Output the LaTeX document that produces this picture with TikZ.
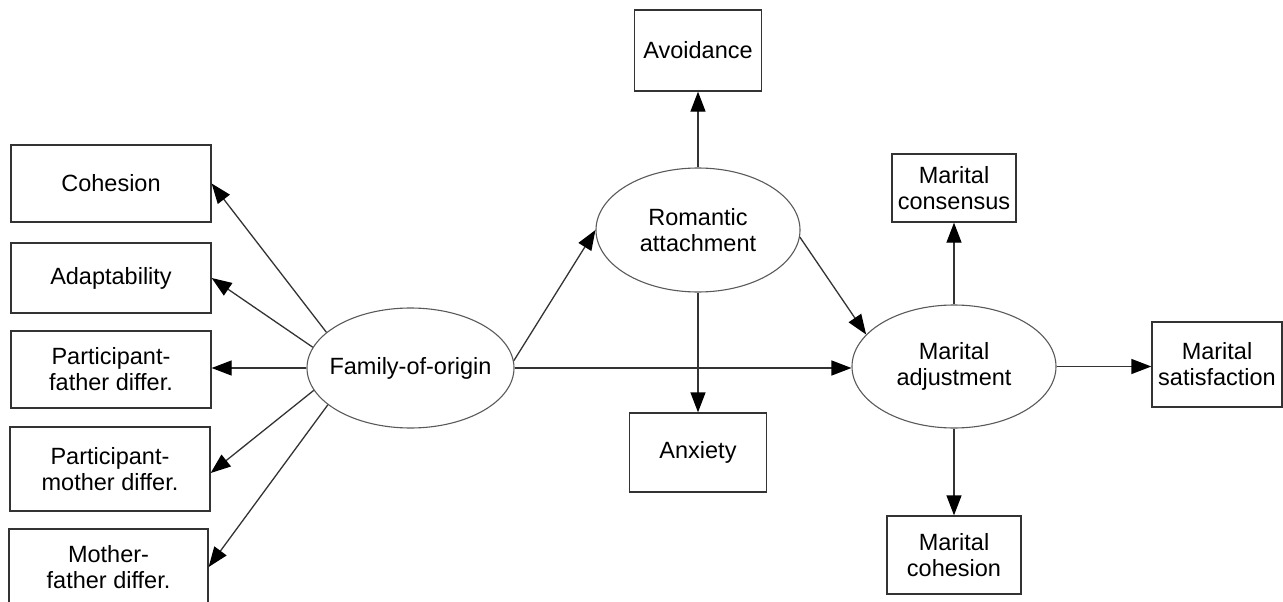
\documentclass[tikz,border=0pt]{standalone}
\usepackage{fontspec}
\setmainfont{Liberation Sans}
\usetikzlibrary{shapes.geometric,arrows.meta}
\begin{document}
\begin{tikzpicture}[x=1pt,y=-1pt,
  box/.style={draw=black!80,line width=1.3pt,rectangle,inner sep=0pt,align=center,font=\fontsize{23.5}{26}\selectfont},
  oval/.style={draw=black!65,line width=1.1pt,ellipse,inner xsep=-12pt,inner ysep=0pt,align=center,font=\fontsize{23.5}{26}\selectfont},
  conn/.style={draw=black!80,line width=1.3pt,-{Triangle[length=20pt,width=15pt,black]}}]
\useasboundingbox (0,0) rectangle (1283,602);
\clip (0,0) rectangle (1283,602);
% boxes
\node[box,minimum width=200pt,minimum height=77pt] (coh) at (111,183.5) {Cohesion};
\node[box,minimum width=200pt,minimum height=70pt] (adapt) at (111,278) {Adaptability};
\node[box,minimum width=200pt,minimum height=77pt] (pf) at (111,369.5) {Participant-\\father differ.};
\node[box,minimum width=200pt,minimum height=84pt] (pm) at (110,469) {Participant-\\mother differ.};
\node[box,minimum width=199pt,minimum height=76pt] (mf) at (108.5,567) {Mother-\\father differ.};
\node[box,minimum width=127pt,minimum height=81pt] (avoid) at (698,50.5) {Avoidance};
\node[box,minimum width=137pt,minimum height=79pt] (anx) at (698,452.5) {Anxiety};
\node[box,minimum width=124pt,minimum height=68pt] (cons) at (954,188) {Marital\\consensus};
\node[box,minimum width=130pt,minimum height=85pt] (sat) at (1217,364.5) {Marital\\satisfaction};
\node[box,minimum width=134pt,minimum height=78pt] (mcoh) at (954,555) {Marital\\cohesion};
% ellipses
\node[oval,minimum width=207pt,minimum height=120pt] (fam) at (410.5,368) {Family-of-origin};
\node[oval,minimum width=204pt,minimum height=124pt] (rom) at (698,230) {Romantic\\attachment};
\node[oval,minimum width=204pt,minimum height=123pt] (mar) at (954,366.5) {Marital\\adjustment};
% connectors
\draw[conn] (fam.157.9) -- (coh.east);
\draw[conn] (fam.168.5) -- (adapt.east);
\draw[conn] (fam.west) -- (fam.west -| pf.east);
\draw[conn] (fam.193.8) -- ([yshift=-4pt]pm.east);
\draw[conn] (fam.204.5) -- (mf.east);
\draw[conn] (fam.4) -- (rom.west);
\draw[conn] (fam.east) -- (fam.east -| mar.west);
\draw[conn] (rom.356) -- (mar.160);
\draw[conn] (rom.north) -- (avoid.south);
\draw[conn] (rom.south) -- (anx.north);
\draw[conn] (mar.north) -- (cons.south);
\draw[conn] (mar.south) -- (mcoh.north);
\draw[conn] (mar.east) -- (mar.east -| sat.west);
\end{tikzpicture}
\end{document}
